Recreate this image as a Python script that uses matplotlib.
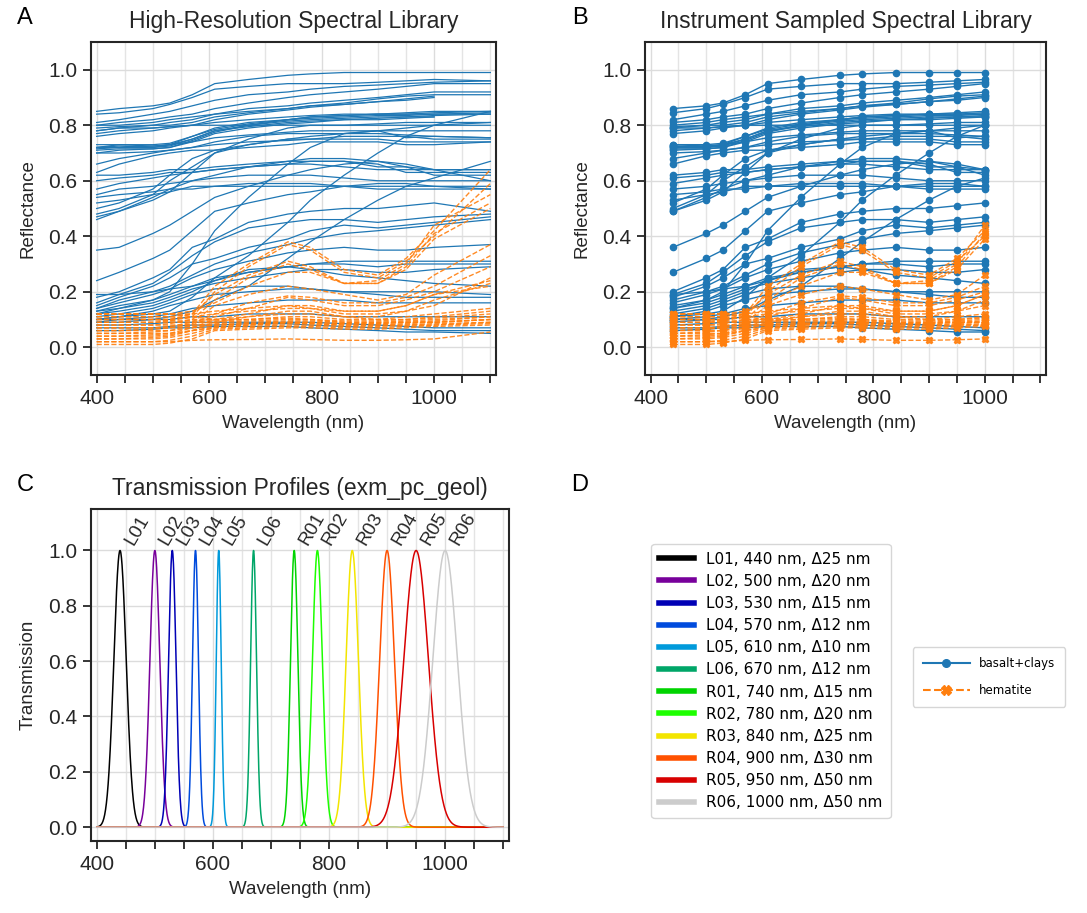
import numpy as np
import matplotlib
matplotlib.use("Agg")
import matplotlib.pyplot as plt
from matplotlib.ticker import MultipleLocator
from matplotlib.lines import Line2D

plt.rcParams['font.family'] = ['Liberation Sans', 'DejaVu Sans']

# ---------------------------------------------------------------- data
# Wavelength knots of the library spectra (nm)
wavelengths = [400, 440, 500, 530, 570, 610, 670, 740, 780, 840, 900, 950, 1000, 1100]
nan = float('nan')

# basalt + clays reflectance spectra
basalt_clays = [
    [0.85, 0.86, 0.87, 0.88, 0.91, 0.95, 0.965, 0.98, 0.985, 0.99, 0.99, 0.99, 0.99, 0.99],
    [0.84, 0.845, 0.86, 0.875, 0.90, 0.93, 0.94, 0.95, 0.95, 0.95, 0.955, 0.96, 0.965, 0.96],
    [0.81, 0.82, 0.84, 0.85, 0.87, 0.89, 0.91, 0.92, 0.93, 0.94, 0.945, 0.95, 0.955, 0.96],
    [0.80, 0.81, 0.82, 0.83, 0.84, 0.86, 0.88, 0.90, 0.91, 0.92, 0.93, 0.94, 0.95, 0.95],
    [0.80, 0.80, 0.81, 0.82, 0.83, 0.84, 0.86, 0.87, 0.88, 0.89, 0.90, 0.91, 0.92, 0.92],
    [0.79, 0.795, 0.80, 0.81, 0.82, 0.84, 0.85, 0.86, 0.87, 0.88, 0.895, 0.905, 0.91, 0.91],
    [0.78, 0.79, 0.80, 0.80, 0.81, 0.83, 0.845, 0.86, 0.87, 0.875, 0.885, 0.895, 0.905, nan],
    [0.77, 0.78, 0.79, 0.795, 0.80, 0.82, 0.84, 0.855, 0.865, 0.875, 0.885, 0.89, 0.90, nan],
    [0.76, 0.77, 0.78, 0.79, 0.80, 0.81, 0.82, 0.83, 0.835, 0.84, 0.84, 0.84, 0.84, 0.84],
    [0.78, 0.79, 0.79, 0.795, 0.80, 0.80, 0.80, 0.80, 0.80, 0.80, 0.805, 0.81, 0.81, 0.81],
    [0.72, 0.725, 0.72, 0.73, 0.75, 0.78, 0.80, 0.82, 0.825, 0.83, 0.835, 0.835, 0.84, 0.845],
    [0.71, 0.715, 0.715, 0.72, 0.745, 0.775, 0.80, 0.815, 0.82, 0.825, 0.83, 0.83, 0.835, 0.84],
    [0.715, 0.72, 0.72, 0.725, 0.75, 0.78, 0.795, 0.81, 0.815, 0.82, 0.825, 0.83, 0.83, nan],
    [0.70, 0.71, 0.715, 0.72, 0.74, 0.77, 0.79, 0.805, 0.81, 0.82, 0.82, 0.825, 0.83, nan],
    [0.72, 0.73, 0.725, 0.73, 0.76, 0.785, 0.805, 0.82, 0.83, 0.835, 0.84, 0.84, 0.845, 0.85],
    [0.73, 0.73, 0.73, 0.735, 0.76, 0.79, 0.81, 0.82, 0.83, 0.835, 0.84, 0.845, 0.85, 0.85],
    [0.72, 0.72, 0.725, 0.73, 0.74, 0.755, 0.765, 0.775, 0.78, 0.78, 0.78, 0.755, 0.76, 0.755],
    [0.70, 0.70, 0.705, 0.71, 0.72, 0.73, 0.74, 0.745, 0.75, 0.75, 0.75, 0.74, 0.74, 0.74],
    [0.66, 0.68, 0.70, 0.71, 0.72, 0.74, 0.76, 0.77, 0.77, 0.77, 0.77, 0.765, 0.76, 0.755],
    [0.63, 0.66, 0.69, 0.70, 0.71, 0.71, 0.72, 0.73, 0.74, 0.74, 0.74, 0.73, 0.73, 0.74],
    [0.62, 0.62, 0.63, 0.64, 0.64, 0.65, 0.66, 0.67, 0.68, 0.68, 0.67, 0.65, 0.64, 0.64],
    [0.60, 0.61, 0.62, 0.63, 0.63, 0.64, 0.65, 0.66, 0.66, 0.65, 0.64, 0.64, 0.64, 0.64],
    [0.57, 0.59, 0.61, 0.62, 0.63, 0.64, 0.65, 0.66, 0.67, 0.67, 0.66, 0.63, 0.63, 0.63],
    [0.55, 0.57, 0.58, 0.59, 0.60, 0.61, 0.62, 0.62, 0.62, 0.61, 0.60, 0.60, 0.60, 0.60],
    [0.54, 0.55, 0.56, 0.57, 0.57, 0.58, 0.58, 0.58, 0.58, 0.58, 0.57, 0.57, 0.57, 0.57],
    [0.52, 0.53, 0.55, 0.56, 0.58, 0.58, 0.59, 0.59, 0.59, 0.58, 0.58, 0.58, 0.58, 0.58],
    [0.50, 0.52, 0.57, 0.62, 0.68, 0.71, 0.73, 0.75, 0.76, 0.77, 0.78, 0.78, 0.78, 0.78],
    [0.48, 0.50, 0.55, 0.60, 0.65, 0.70, 0.73, 0.75, 0.75, 0.76, 0.76, 0.76, 0.75, 0.75],
    [0.47, 0.49, 0.54, 0.57, 0.60, 0.62, 0.65, 0.67, 0.67, 0.67, 0.65, 0.65, 0.62, 0.62],
    [0.46, 0.49, 0.53, 0.56, 0.63, 0.70, 0.75, 0.79, 0.80, 0.80, 0.80, 0.80, 0.80, 0.80],
    [0.13, 0.14, 0.17, 0.20, 0.30, 0.42, 0.54, 0.66, 0.72, 0.77, 0.78, 0.79, 0.80, 0.81],
    [0.10, 0.11, 0.12, 0.13, 0.18, 0.25, 0.33, 0.45, 0.53, 0.62, 0.70, 0.76, 0.80, 0.85],
    [0.09, 0.10, 0.10, 0.11, 0.13, 0.17, 0.22, 0.32, 0.38, 0.46, 0.53, 0.58, 0.61, 0.67],
    [0.35, 0.36, 0.41, 0.44, 0.49, 0.54, 0.58, 0.62, 0.64, 0.66, 0.67, 0.66, 0.64, 0.60],
    [0.24, 0.27, 0.32, 0.35, 0.42, 0.49, 0.52, 0.55, 0.56, 0.58, 0.59, 0.59, 0.58, 0.57],
    [0.18, 0.20, 0.25, 0.28, 0.36, 0.39, 0.45, 0.48, 0.49, 0.50, 0.50, 0.51, 0.52, 0.49],
    [0.16, 0.19, 0.23, 0.27, 0.33, 0.38, 0.43, 0.45, 0.46, 0.46, 0.45, 0.46, 0.47, 0.48],
    [0.15, 0.18, 0.22, 0.25, 0.30, 0.32, 0.36, 0.39, 0.42, 0.44, 0.43, 0.44, 0.45, 0.47],
    [0.14, 0.17, 0.20, 0.22, 0.26, 0.30, 0.34, 0.37, 0.39, 0.41, 0.42, 0.43, 0.44, 0.46],
    [0.14, 0.16, 0.19, 0.21, 0.25, 0.28, 0.31, 0.34, 0.35, 0.36, 0.35, 0.35, 0.36, 0.37],
    [0.13, 0.15, 0.17, 0.19, 0.22, 0.25, 0.27, 0.29, 0.30, 0.30, 0.29, 0.30, 0.30, 0.30],
    [0.12, 0.14, 0.16, 0.18, 0.21, 0.23, 0.25, 0.27, 0.28, 0.28, 0.27, 0.27, 0.28, 0.29],
    [0.12, 0.13, 0.15, 0.17, 0.20, 0.24, 0.28, 0.29, 0.28, 0.26, 0.25, 0.24, 0.23, 0.22],
    [0.11, 0.12, 0.14, 0.16, 0.19, 0.21, 0.22, 0.22, 0.21, 0.20, 0.20, 0.20, 0.20, 0.19],
    [0.10, 0.11, 0.13, 0.15, 0.17, 0.19, 0.20, 0.21, 0.21, 0.20, 0.19, 0.18, 0.18, 0.18],
    [0.19, 0.19, 0.20, 0.21, 0.22, 0.24, 0.27, 0.29, 0.30, 0.31, 0.31, 0.31, 0.31, 0.31],
    [0.10, 0.10, 0.11, 0.12, 0.14, 0.15, 0.16, 0.17, 0.17, 0.17, 0.16, 0.16, 0.16, 0.16],
    [0.08, 0.08, 0.085, 0.09, 0.09, 0.09, 0.09, 0.09, 0.09, 0.085, 0.08, 0.075, 0.07, 0.07],
    [0.06, 0.06, 0.065, 0.07, 0.07, 0.075, 0.075, 0.075, 0.07, 0.065, 0.06, 0.055, 0.055, 0.05],
    [0.07, 0.07, 0.07, 0.075, 0.08, 0.08, 0.085, 0.085, 0.08, 0.075, 0.07, 0.065, 0.06, 0.06],
    [0.09, 0.09, 0.10, 0.10, 0.11, 0.11, 0.12, 0.12, 0.12, 0.11, 0.11, 0.11, 0.11, 0.11],
]

# hematite reflectance spectra
hematite = [
    [0.10, 0.10, 0.10, 0.10, 0.12, 0.22, 0.30, 0.38, 0.36, 0.28, 0.26, 0.32, 0.42, 0.64],
    [0.09, 0.09, 0.09, 0.095, 0.11, 0.20, 0.29, 0.37, 0.35, 0.27, 0.25, 0.31, 0.40, 0.59],
    [0.11, 0.11, 0.11, 0.11, 0.12, 0.19, 0.26, 0.31, 0.29, 0.23, 0.24, 0.30, 0.44, 0.55],
    [0.08, 0.08, 0.08, 0.085, 0.10, 0.17, 0.25, 0.30, 0.28, 0.23, 0.23, 0.29, 0.41, 0.52],
    [0.12, 0.12, 0.12, 0.12, 0.13, 0.16, 0.22, 0.27, 0.27, 0.23, 0.23, 0.28, 0.39, 0.50],
    [0.07, 0.07, 0.07, 0.075, 0.09, 0.15, 0.19, 0.22, 0.21, 0.19, 0.17, 0.19, 0.26, 0.37],
    [0.06, 0.06, 0.065, 0.07, 0.085, 0.12, 0.16, 0.185, 0.18, 0.16, 0.16, 0.18, 0.22, 0.33],
    [0.05, 0.05, 0.055, 0.06, 0.08, 0.11, 0.14, 0.18, 0.17, 0.15, 0.15, 0.17, 0.20, 0.29],
    [0.04, 0.04, 0.045, 0.05, 0.07, 0.10, 0.12, 0.15, 0.14, 0.13, 0.13, 0.15, 0.19, 0.24],
    [0.03, 0.03, 0.035, 0.04, 0.06, 0.09, 0.11, 0.13, 0.13, 0.11, 0.11, 0.13, 0.17, 0.23],
    [0.12, 0.12, 0.12, 0.12, 0.11, 0.10, 0.11, 0.12, 0.12, 0.11, 0.10, 0.11, 0.12, 0.14],
    [0.11, 0.11, 0.11, 0.11, 0.10, 0.10, 0.10, 0.11, 0.11, 0.10, 0.10, 0.10, 0.11, 0.13],
    [0.10, 0.10, 0.10, 0.095, 0.095, 0.095, 0.10, 0.105, 0.10, 0.095, 0.095, 0.10, 0.105, 0.12],
    [0.09, 0.09, 0.09, 0.09, 0.09, 0.09, 0.095, 0.10, 0.10, 0.09, 0.09, 0.095, 0.10, 0.11],
    [0.08, 0.08, 0.08, 0.08, 0.08, 0.085, 0.09, 0.095, 0.095, 0.09, 0.09, 0.09, 0.095, 0.11],
    [0.07, 0.07, 0.07, 0.07, 0.075, 0.08, 0.085, 0.09, 0.09, 0.085, 0.085, 0.09, 0.09, 0.10],
    [0.06, 0.06, 0.06, 0.06, 0.07, 0.08, 0.085, 0.09, 0.09, 0.085, 0.085, 0.09, 0.09, 0.10],
    [0.05, 0.05, 0.05, 0.05, 0.06, 0.075, 0.08, 0.09, 0.085, 0.08, 0.08, 0.085, 0.09, 0.10],
    [0.04, 0.04, 0.04, 0.045, 0.06, 0.07, 0.08, 0.085, 0.085, 0.08, 0.08, 0.08, 0.085, 0.09],
    [0.03, 0.03, 0.03, 0.035, 0.05, 0.07, 0.075, 0.08, 0.08, 0.075, 0.075, 0.08, 0.08, 0.09],
    [0.02, 0.02, 0.02, 0.025, 0.04, 0.065, 0.07, 0.075, 0.075, 0.07, 0.07, 0.075, 0.08, 0.085],
    [0.01, 0.01, 0.01, 0.015, 0.03, 0.06, 0.065, 0.07, 0.07, 0.065, 0.065, 0.07, 0.075, 0.08],
    [0.02, 0.02, 0.02, 0.02, 0.025, 0.027, 0.028, 0.03, 0.028, 0.025, 0.025, 0.027, 0.03, 0.055],
    [0.12, 0.12, 0.12, 0.12, 0.12, 0.13, 0.14, 0.15, 0.15, 0.13, 0.13, 0.15, 0.19, 0.22],
    [0.10, 0.10, 0.10, 0.10, 0.11, 0.12, 0.13, 0.14, 0.14, 0.12, 0.12, 0.13, 0.15, 0.25],
]

# Instrument filter bands
band_names = ['L01', 'L02', 'L03', 'L04', 'L05', 'L06',
              'R01', 'R02', 'R03', 'R04', 'R05', 'R06']
band_centers = [440, 500, 530, 570, 610, 670, 740, 780, 840, 900, 950, 1000]
band_widths = [25, 20, 15, 12, 10, 12, 15, 20, 25, 30, 50, 50]

BLUE = '#1f77b4'
ORANGE = '#ff7f0e'
INK = '#262626'

# ---------------------------------------------------------------- figure
fig = plt.figure(figsize=(10.87, 9.13), dpi=100)
W, H = 1087, 913


def px_axes(left, top, right, bottom):
    return fig.add_axes([left / W, 1 - bottom / H, (right - left) / W, (bottom - top) / H])


ax_a = px_axes(91, 42, 496, 375)
ax_b = px_axes(645, 42, 1046, 375)
ax_c = px_axes(91, 509, 509, 841)


def style(ax, ylim, ylabel):
    ax.set_xlim(390, 1110)
    ax.set_ylim(*ylim)
    ax.xaxis.set_major_locator(MultipleLocator(200))
    ax.xaxis.set_minor_locator(MultipleLocator(50))
    ax.set_yticks([0.0, 0.2, 0.4, 0.6, 0.8, 1.0])
    ax.grid(True, which='major', color='#dcdcdc', lw=1.0, zorder=0)
    ax.grid(True, which='minor', axis='x', color='#e4e4e4', lw=1.0, zorder=0)
    ax.set_axisbelow(True)
    for s in ax.spines.values():
        s.set_color(INK)
        s.set_linewidth(1.5)
    ax.tick_params(which='both', direction='out', length=6, width=1.3,
                   color=INK, labelsize=15, labelcolor=INK, pad=4)
    ax.set_xlabel('Wavelength (nm)', fontsize=13.5, color=INK, labelpad=5)
    ax.set_ylabel(ylabel, fontsize=13.5, color=INK, labelpad=8)


wl = np.array(wavelengths, dtype=float)
band_idx = [wavelengths.index(c) for c in band_centers]

# A: full-resolution spectra
for spec in basalt_clays:
    ax_a.plot(wl, spec, color=BLUE, lw=0.9, zorder=2)
for spec in hematite:
    ax_a.plot(wl, spec, color=ORANGE, lw=1.0, ls='--', alpha=0.9, zorder=3)
style(ax_a, (-0.1, 1.1), 'Reflectance')
ax_a.set_title('High-Resolution Spectral Library', fontsize=16.5, color=INK, pad=10)

# B: spectra sampled at the band centres
bc = np.array(band_centers, dtype=float)
for spec in basalt_clays:
    ax_b.plot(bc, np.array(spec)[band_idx], color=BLUE, lw=1.0, marker='o', ms=4.5, zorder=2)
for spec in hematite:
    ax_b.plot(bc, np.array(spec)[band_idx], color=ORANGE, lw=1.0, ls='--', marker='X',
              ms=5, alpha=0.9, zorder=3)
style(ax_b, (-0.1, 1.1), 'Reflectance')
ax_b.set_title('Instrument Sampled Spectral Library', fontsize=16.5, color=INK, pad=10)

# C: Gaussian transmission profiles (centre, FWHM), coloured by centre wavelength
cmap = plt.get_cmap('nipy_spectral')
lo, hi = min(band_centers), max(band_centers)
colors = [cmap((c - lo) / (hi - lo)) for c in band_centers]
grid_wl = np.linspace(400, 1100, 1401)
handles = []
for name, c, fw, col in zip(band_names, band_centers, band_widths, colors):
    t = np.exp(-4 * np.log(2) * (grid_wl - c) ** 2 / fw ** 2)
    ax_c.plot(grid_wl, t, color=col, lw=1.1, zorder=2)
    ax_c.text(c + 3, 1.008, name, rotation=60, ha='left', va='bottom',
              fontsize=13.5, color=INK)
    handles.append(Line2D([], [], color=col, lw=4, label=f'{name}, {c} nm, Δ{fw} nm'))
style(ax_c, (-0.05, 1.15), 'Transmission')
ax_c.set_title('Transmission Profiles (exm_pc_geol)', fontsize=16.5, color=INK, pad=10)

# D: legends
fig.legend(handles=handles, loc='center', bbox_to_anchor=(771 / W, 1 - 681 / H),
           prop={'family': 'DejaVu Sans', 'size': 11}, frameon=True, edgecolor='#cccccc',
           labelspacing=0.47, handlelength=2.3, borderpad=0.5, fancybox=True)
group_handles = [
    Line2D([], [], color=BLUE, lw=1.5, marker='o', ms=5.5, label='basalt+clays'),
    Line2D([], [], color=ORANGE, lw=1.5, ls='--', marker='X', ms=6.5, label='hematite'),
]
fig.legend(handles=group_handles, loc='center', bbox_to_anchor=(989 / W, 1 - 677 / H),
           prop={'family': 'DejaVu Sans', 'size': 8.5}, frameon=True, edgecolor='#cccccc',
           handlelength=4.0, labelspacing=1.2, borderpad=0.8, fancybox=True)

# Panel letters
for letter, x, y in [('A', 25, 18), ('B', 580, 18), ('C', 25, 485), ('D', 580, 485)]:
    fig.text(x / W, 1 - y / H, letter, fontsize=17, ha='center', va='center', color='black')

fig.savefig('out.png', dpi=100)
